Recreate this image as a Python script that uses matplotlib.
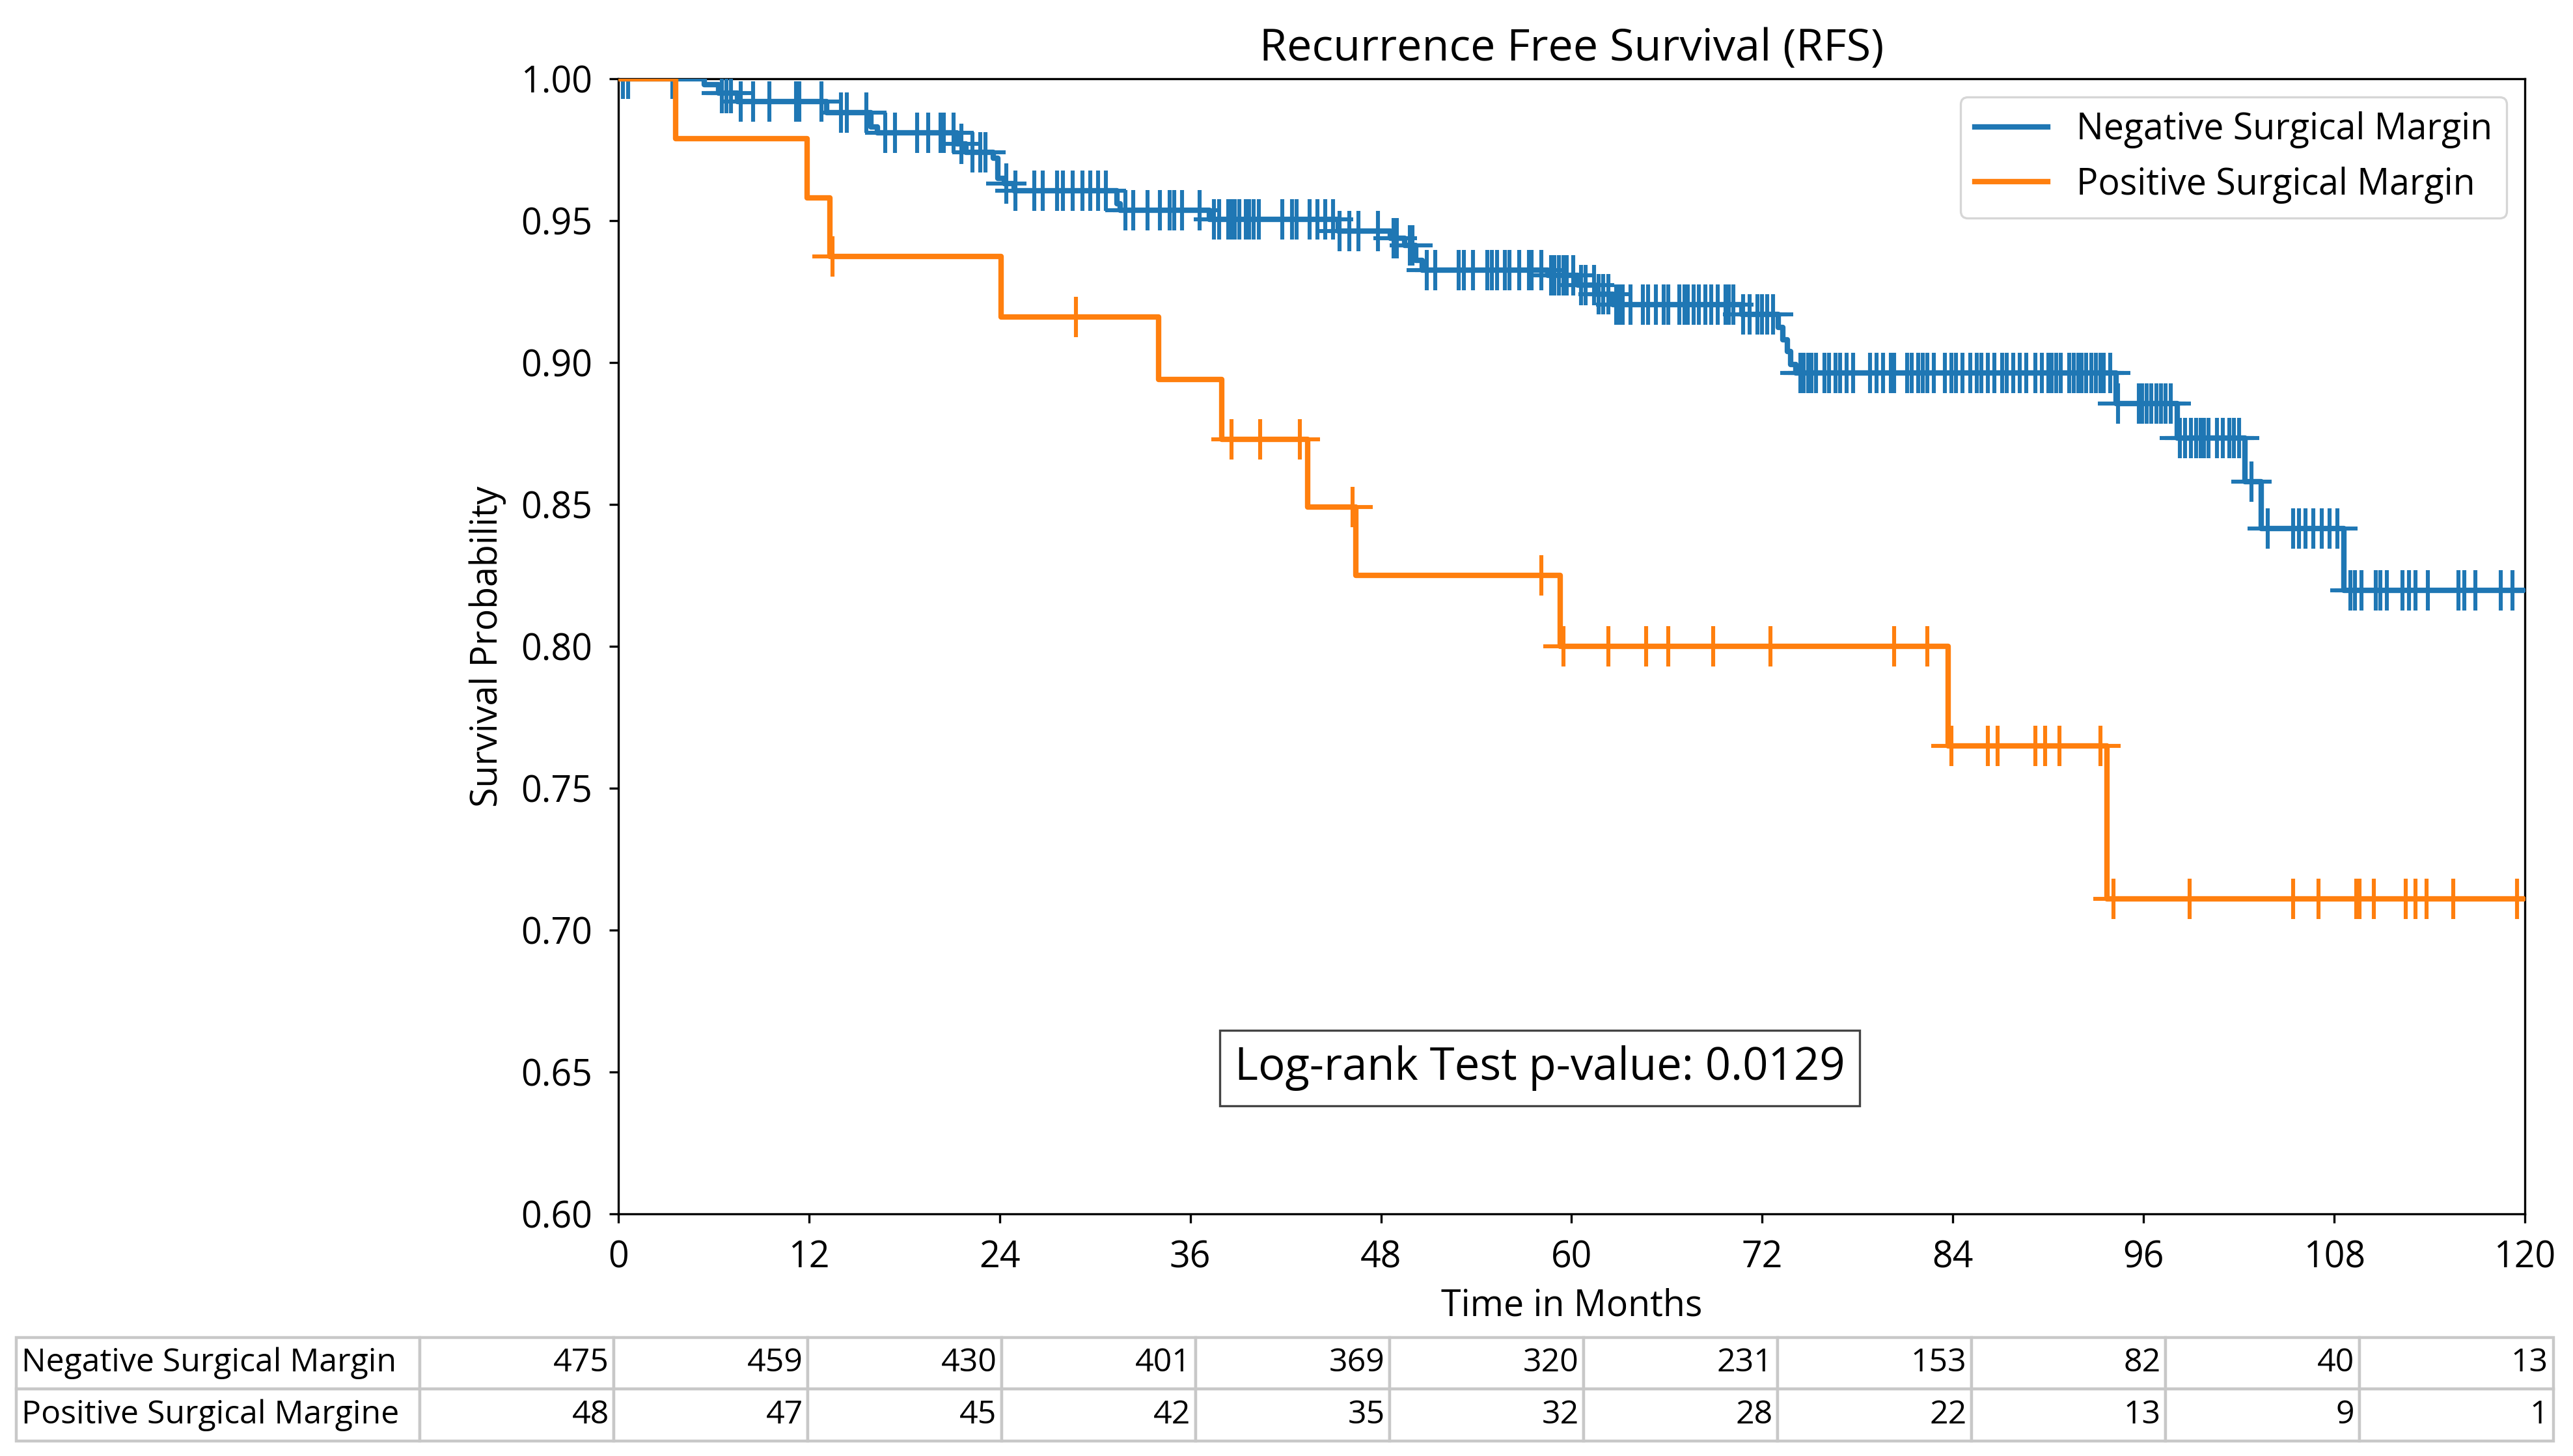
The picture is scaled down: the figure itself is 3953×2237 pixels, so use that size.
import numpy as np
import matplotlib
matplotlib.use('Agg')
import matplotlib.pyplot as plt

plt.rcParams['font.family'] = ['Open Sans', 'DejaVu Sans']

# ---------------- data ----------------
time_ticks = [0, 12, 24, 36, 48, 60, 72, 84, 96, 108, 120]
prob_ticks = [0.60, 0.65, 0.70, 0.75, 0.80, 0.85, 0.90, 0.95, 1.00]

group_labels = ["Negative Surgical Margin", "Positive Surgical Margin"]
table_labels = ["Negative Surgical Margin", "Positive Surgical Margine"]

neg_event_times = [5.4, 6.3, 7.5, 13.1, 15.9, 16.3, 21.3, 21.9, 23.6, 23.9, 24.3, 24.9,
                   31.4, 31.6, 37.2, 45.3, 48.6, 49.5, 50.2, 50.6, 58.5, 60.4, 61.5,
                   62.6, 70.7, 73.0, 73.3, 73.6, 73.8, 74.1, 94.25, 98.1, 102.4, 103.4,
                   108.6]
neg_survival = [0.998, 0.995, 0.992, 0.988, 0.983, 0.981, 0.977, 0.974, 0.972, 0.965,
                0.963, 0.9605, 0.956, 0.9536, 0.9505, 0.9463, 0.9437, 0.9414, 0.936,
                0.9326, 0.9307, 0.9273, 0.924, 0.9204, 0.917, 0.9124, 0.908, 0.904,
                0.8993, 0.8963, 0.8856, 0.8734, 0.858, 0.8416, 0.8198]
neg_censor_times = [0.3, 0.6, 3.4, 6.5, 6.8, 7.1, 7.7, 8.5, 9.5, 11.2, 11.4, 12.8, 14.0,
                    14.4, 15.6, 16.8, 17.4, 18.8, 19.5, 20.3, 20.5, 21.1, 21.6, 22.3,
                    22.8, 23.1, 24.4, 25.0, 26.2, 26.7, 27.6, 28.0, 28.6, 29.2, 29.7,
                    30.2, 30.7, 31.9, 32.4, 33.3, 34.1, 34.7, 35.0, 35.5, 36.6, 37.5,
                    37.8, 38.4, 38.6, 38.8, 39.1, 39.5, 39.7, 40.0, 40.3, 41.8, 42.4,
                    42.7, 43.5, 44.0, 44.5, 45.0, 45.4, 46.0, 46.6, 47.8, 48.8, 49.0,
                    49.8, 50.0, 50.9, 51.4, 52.9, 53.2, 53.8, 54.7, 55.0, 55.3, 55.8,
                    56.1, 56.7, 57.3, 57.5, 58.1, 58.7, 58.9, 59.2, 59.5, 59.7, 60.1,
                    60.6, 60.9, 61.4, 61.7, 62.0, 62.3, 62.8, 63.0, 63.2, 63.7, 64.5,
                    64.8, 65.3, 65.8, 66.1, 66.8, 67.1, 67.3, 67.7, 68.0, 68.4, 68.8,
                    69.2, 69.7, 69.9, 70.2, 70.8, 71.2, 71.7, 72.0, 72.3, 72.7, 74.4,
                    74.6, 74.9, 75.1, 75.4, 75.9, 76.2, 76.6, 76.9, 77.3, 77.7, 78.8,
                    79.2, 79.6, 80.1, 80.3, 81.1, 81.4, 81.8, 82.1, 82.4, 82.8, 83.5,
                    83.9, 84.2, 84.6, 85.1, 85.5, 85.8, 86.2, 86.6, 87.1, 87.4, 87.8,
                    88.2, 88.6, 89.2, 89.6, 90.0, 90.2, 90.5, 90.8, 91.3, 91.6, 91.9,
                    92.1, 92.4, 92.7, 93.0, 93.3, 93.5, 93.9, 94.4, 95.7, 95.9, 96.2,
                    96.5, 96.8, 97.1, 97.4, 97.7, 98.3, 98.6, 99.0, 99.3, 99.6, 99.8,
                    100.1, 100.6, 101.0, 101.4, 101.7, 102.0, 102.8, 103.8, 105.4,
                    105.8, 106.2, 106.7, 107.2, 107.7, 108.2, 109.0, 109.3, 109.7,
                    110.6, 110.9, 111.3, 112.3, 112.7, 113.1, 113.9, 115.8, 116.2,
                    116.9, 118.5, 119.2]

pos_event_times = [3.6, 11.9, 13.3, 24.1, 34.0, 38.0, 43.4, 46.4, 59.3, 83.7, 93.7]
pos_survival = [0.979, 0.958, 0.9375, 0.916, 0.894, 0.873, 0.849, 0.825, 0.800, 0.765,
                0.711]
pos_censor_times = [13.5, 28.8, 38.6, 40.4, 42.9, 46.2, 58.1, 59.5, 62.3, 64.7, 66.1,
                    68.9, 72.5, 80.3, 82.4, 83.9, 86.2, 86.8, 89.2, 89.8, 90.7, 93.3,
                    94.1, 98.9, 105.4, 107.0, 109.4, 109.6, 110.5, 112.5, 113.1, 113.8,
                    115.5, 119.5]

risk_neg = [475, 459, 430, 401, 369, 320, 231, 153, 82, 40, 13]
risk_pos = [48, 47, 45, 42, 35, 32, 28, 22, 13, 9, 1]

pvalue_text = "Log-rank Test p-value: 0.0129"

colors = ['#1f77b4', '#ff7f0e']

# ---------------- figure ----------------
DPI = 400
fig = plt.figure(figsize=(3953 / DPI, 2237 / DPI), dpi=DPI)
ax = fig.add_axes([0.2403, 0.1663, 0.9813 - 0.2403, 0.9459 - 0.1663])

t_end = 120.0


def step_arrays(ev_t, surv):
    t = np.concatenate([[0.0], np.asarray(ev_t, float), [t_end]])
    s = np.concatenate([[1.0], np.asarray(surv, float), [surv[-1]]])
    return t, s


def surv_at(times, ev_t, surv):
    idx = np.searchsorted(np.asarray(ev_t, float), np.asarray(times, float), side='right')
    s = np.concatenate([[1.0], np.asarray(surv, float)])
    return s[idx]


groups = [(neg_event_times, neg_survival, neg_censor_times),
          (pos_event_times, pos_survival, pos_censor_times)]
for (ev_t, surv, cens), col, lab in zip(groups, colors, group_labels):
    t, s = step_arrays(ev_t, surv)
    ax.step(t, s, where='post', color=col, lw=1.5, label=lab, zorder=3)
    ax.plot(cens, surv_at(cens, ev_t, surv), linestyle='none', marker='+',
            ms=11, mew=1.1, color=col, zorder=3)

ax.set_xlim(0, 120)
ax.set_ylim(0.60, 1.00)
ax.set_xticks(time_ticks)
ax.set_yticks(prob_ticks)
ax.set_yticklabels([f"{v:.2f}" for v in prob_ticks])
ax.tick_params(labelsize=10, length=2.6, width=0.6, pad=4.5)
for sp in ax.spines.values():
    sp.set_linewidth(0.6)

ax.set_title("Recurrence Free Survival (RFS)", fontsize=12.3, pad=5)
ax.set_xlabel("Time in Months", fontsize=10, labelpad=3)
ax.set_ylabel("Survival Probability", fontsize=10, labelpad=4)

leg = ax.legend(loc='upper right', fontsize=10, handlelength=2.0, frameon=True)
leg.get_frame().set_linewidth(0.6)

ax.text(58.0, 0.6514, pvalue_text, fontsize=12.4, ha='center', va='center',
        bbox=dict(boxstyle='square,pad=0.33', facecolor='white', edgecolor='#444444',
                  linewidth=0.6), zorder=5)

# ---------------- at-risk table ----------------
tax = fig.add_axes([0.0064, 0.0105, 0.9859, 0.0710])
tax.axis('off')
cell_text = [[table_labels[0]] + [str(v) for v in risk_neg],
             [table_labels[1]] + [str(v) for v in risk_pos]]
lab_w = 246.0 / 1546.0
num_w = (1.0 - lab_w) / len(time_ticks)
tbl = tax.table(cellText=cell_text, cellLoc='right', bbox=[0, 0, 1, 1],
                colWidths=[lab_w] + [num_w] * len(time_ticks))
tbl.auto_set_font_size(False)
tbl.set_fontsize(9.0)
for (r, c), cell in tbl.get_celld().items():
    cell.set_edgecolor('#c8c8c8')
    cell.set_linewidth(0.8)
    if c == 0:
        cell._loc = 'left'
        cell.get_text().set_ha('left')
        cell.PAD = 0.012
    else:
        cell.PAD = 0.025

fig.savefig('out.png', dpi=DPI, facecolor='white')
